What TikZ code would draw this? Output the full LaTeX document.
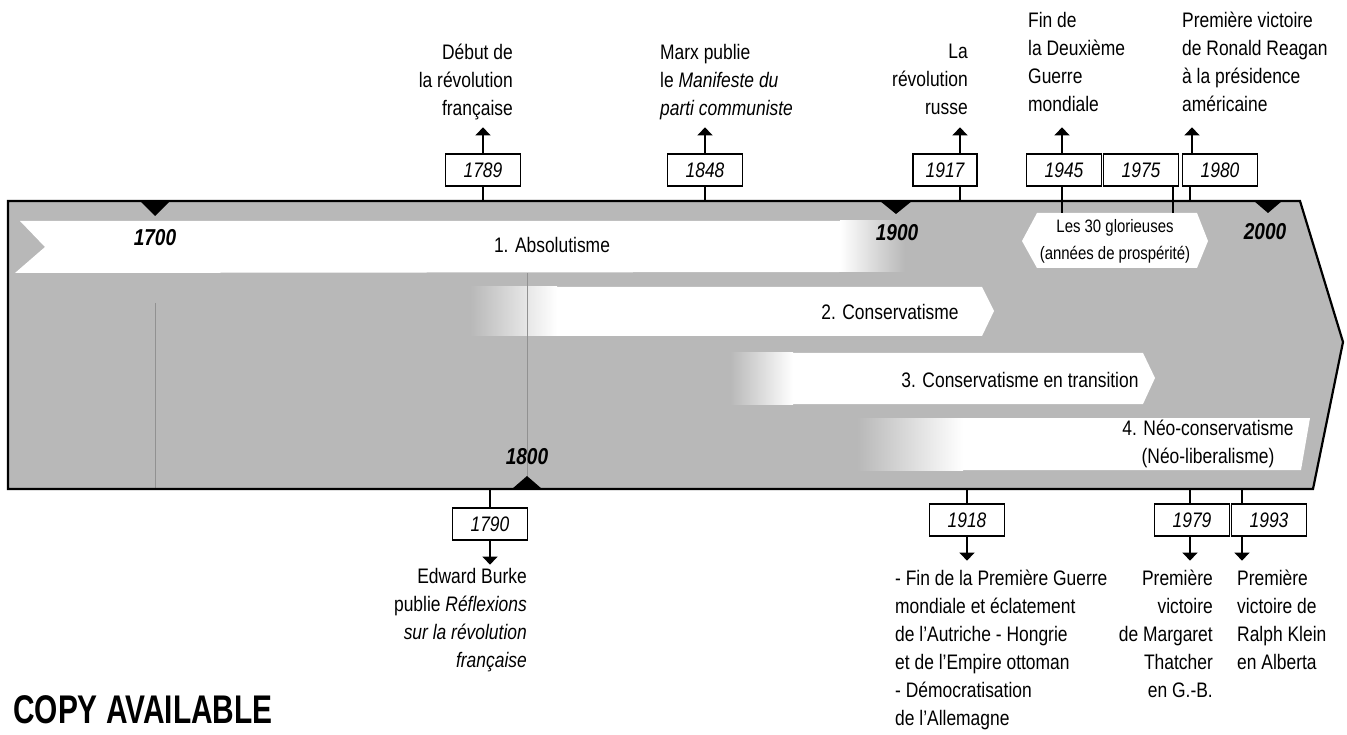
\documentclass[tikz,border=0pt]{standalone}
\usepackage{fontspec}
\setmainfont{Liberation Sans}[FakeStretch=0.83]
\usepackage{graphicx}
\usetikzlibrary{arrows.meta,positioning,calc}
\definecolor{tlgray}{RGB}{184,184,184}
\definecolor{tlfaint}{RGB}{145,145,145}

\begin{document}
\begin{tikzpicture}[
  x=1pt, y=-1pt,
  yearbox/.style={rectangle, draw=black, line width=1.3pt, fill=white, minimum width=75pt, minimum height=32pt, inner sep=0pt, font=\fontsize{21}{24}\selectfont\itshape},
  evt/.style={inner sep=0pt, font=\fontsize{21}{28}\selectfont},
  era/.style={inner sep=0pt, align=center, font=\fontsize{21}{28}\selectfont},
  century/.style={inner sep=0pt, font=\fontsize{23}{26}\selectfont\bfseries\itshape},
  stem/.style={line width=1.4pt},
  arrow/.style={stem, -{Triangle[width=15pt,length=8pt]}},
  marker/.style={fill=black}
]
\useasboundingbox (0,0) rectangle (1347,735);

% Band
\fill[tlgray] (8,201) -- (1300,201) -- (1343,342) -- (1313,489) -- (8,489) -- cycle;

% Era 1 - Absolutisme
\fill[white] (20,221) -- (840,221) -- (840,272) -- (15,273) -- (45,247) -- cycle;
\shade[left color=white, right color=tlgray] (840,221) rectangle (905,272);

% Era 2 - Conservatisme
\shade[left color=tlgray, right color=white] (470,287) rectangle (557,336);
\fill[white] (557,287) -- (982,287) -- (994,311) -- (982,336) -- (557,336) -- cycle;

% Era 3 - Conservatisme en transition
\shade[left color=tlgray, right color=white] (730,353) rectangle (793,404);
\fill[white] (793,353) -- (1143,353) -- (1155,378) -- (1143,404) -- (793,404) -- cycle;

% Era 4 - Neo-conservatisme
\shade[left color=tlgray, right color=white] (857,418) rectangle (963,470);
\fill[white] (963,418) -- (1310,418) -- (1301,470) -- (963,470) -- cycle;

% Les 30 glorieuses
\fill[white] (1022,241) -- (1037,213) -- (1197,213) -- (1208,241) -- (1197,268) -- (1037,268) -- cycle;

% faint century lines
\draw[tlfaint, line width=0.5pt] (155,303) -- (155,489);
\draw[tlfaint, line width=0.5pt] (527,273) -- (527,476);

% Band outline
\draw[line width=2.2pt] (8,201) -- (1300,201) -- (1343,342) -- (1313,489) -- (8,489) -- cycle;

% Century markers
\fill[marker] (140,201) -- (170,201) -- (155,216) -- cycle;
\fill[marker] (880,201) -- (912,201) -- (896,214) -- cycle;
\fill[marker] (1254,201) -- (1282,201) -- (1268,213) -- cycle;
\fill[marker] (512,489) -- (542,489) -- (527,476) -- cycle;

\node[century] (c1700) at (155,238) {1700};
\node[century] (c1800) at (527,457) {1800};
\node[century] (c1900) at (897,233) {1900};
\node[century] (c2000) at (1265,232) {2000};

% Era labels
\node[era] (era1) at (552,245) {1. Absolutisme};
\node[era] (era2) at (890,312) {2. Conservatisme};
\node[era] (era3) at (1020,380) {3. Conservatisme en transition};
\node[era] (era4) at (1208,444) {4. Néo-conservatisme\\(Néo-liberalisme)};
\node[era, font=\fontsize{18}{27}\selectfont] (glor) at (1115,241) {Les 30 glorieuses\\(années de prospérité)};

% Events above
\coordinate (t1789) at (483,201);
\coordinate (t1848) at (705,201);
\coordinate (t1917) at (960,201);
\coordinate (t1945) at (1062,213);
\coordinate (t1975) at (1173,213);
\coordinate (t1980) at (1190,201);

\node[yearbox] (y1789) at (483,170) {1789};
\node[yearbox] (y1848) at (705,170) {1848};
\node[yearbox, minimum width=64pt] (y1917) at (945,170) {1917};
\node[yearbox] (y1945) at (1064,170) {1945};
\node[yearbox] (y1975) at (1141,170) {1975};
\node[yearbox] (y1980) at (1220,170) {1980};

\foreach \yr in {1789,1848,1917,1945,1975,1980}
  \draw[stem] (y\yr.south -| t\yr) -- (t\yr);
\foreach \yr in {1789,1848,1917,1945}
  \draw[arrow] (y\yr.north -| t\yr) -- ++(0,-26);
\draw[arrow] ([xshift=2pt]y1980.north -| t1980) -- ++(0,-26);

\node[evt, anchor=north east, align=right] (e1789) at (513,44) {Début de\\la révolution\\française};
\node[evt, anchor=north west, align=left] (e1848) at (660,44) {Marx publie\\le \textit{Manifeste du}\\\textit{parti communiste}};
\node[evt, anchor=north east, align=right] (e1917) at (968,44) {La\\révolution\\russe};
\node[evt, anchor=north west, align=left] (e1945) at (1028,12) {Fin de\\la Deuxième\\Guerre\\mondiale};
\node[evt, anchor=north west, align=left] (e1980) at (1182,12) {Première victoire\\de Ronald Reagan\\à la présidence\\américaine};

% Events below
\coordinate (b1790) at (490,489);
\coordinate (b1918) at (967,489);
\coordinate (b1979) at (1190,489);
\coordinate (b1993) at (1242,489);

\node[yearbox] (y1790) at (490,524) {1790};
\node[yearbox] (y1918) at (967,520) {1918};
\node[yearbox] (y1979) at (1192,520) {1979};
\node[yearbox] (y1993) at (1269,520) {1993};

\foreach \yr in {1790,1918,1979,1993} {
  \draw[stem] (b\yr) -- (y\yr.north -| b\yr);
  \draw[arrow] (y\yr.south -| b\yr) -- ++(0,24);
}

\node[evt, anchor=north east, align=right] (e1790) at (527,568) {Edward Burke\\publie \textit{Réflexions}\\\textit{sur la révolution}\\\textit{française}};
\node[evt, anchor=north west, align=left] (e1918) at (895,570) {- Fin de la Première Guerre\\mondiale et éclatement\\de l’Autriche - Hongrie\\et de l’Empire ottoman\\- Démocratisation\\de l’Allemagne};
\node[evt, anchor=north east, align=right] (e1979) at (1213,570) {Première\\victoire\\de Margaret\\Thatcher\\en G.-B.};
\node[evt, anchor=north west, align=left] (e1993) at (1237,570) {Première\\victoire de\\Ralph Klein\\en Alberta};

% Stamp
\node[anchor=west, inner sep=0pt] (stamp) at (13,710) {\fontsize{40}{44}\selectfont\bfseries\scalebox{0.9}[1]{COPY AVAILABLE}};

\end{tikzpicture}
\end{document}
